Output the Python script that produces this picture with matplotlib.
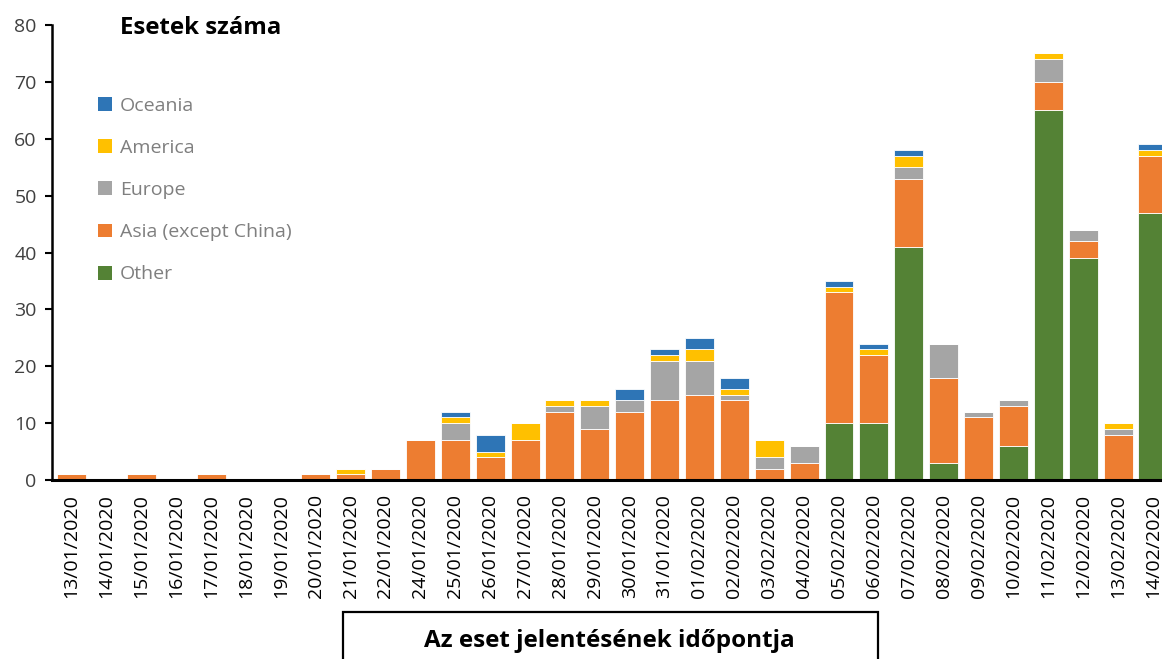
import matplotlib
matplotlib.use("Agg")
import matplotlib.pyplot as plt
from matplotlib.patches import Rectangle, Patch
import numpy as np

dates = ["13/01/2020", "14/01/2020", "15/01/2020", "16/01/2020", "17/01/2020",
         "18/01/2020", "19/01/2020", "20/01/2020", "21/01/2020", "22/01/2020",
         "24/01/2020", "25/01/2020", "26/01/2020", "27/01/2020", "28/01/2020",
         "29/01/2020", "30/01/2020", "31/01/2020", "01/02/2020", "02/02/2020",
         "03/02/2020", "04/02/2020", "05/02/2020", "06/02/2020", "07/02/2020",
         "08/02/2020", "09/02/2020", "10/02/2020", "11/02/2020", "12/02/2020",
         "13/02/2020", "14/02/2020"]

other   = [0, 0, 0, 0, 0, 0, 0, 0, 0, 0, 0, 0, 0, 0, 0, 0, 0, 0, 0, 0, 0, 0,
           10, 10, 41, 3, 0, 6, 65, 39, 0, 47]
asia    = [1, 0, 1, 0, 1, 0, 0, 1, 1, 2, 7, 7, 4, 7, 12, 9, 12, 14, 15, 14, 2, 3,
           23, 12, 12, 15, 11, 7, 5, 3, 8, 10]
europe  = [0, 0, 0, 0, 0, 0, 0, 0, 0, 0, 0, 3, 0, 0, 1, 4, 2, 7, 6, 1, 2, 3,
           0, 0, 2, 6, 1, 1, 4, 2, 1, 0]
america = [0, 0, 0, 0, 0, 0, 0, 0, 1, 0, 0, 1, 1, 3, 1, 1, 0, 1, 2, 1, 3, 0,
           1, 1, 2, 0, 0, 0, 1, 0, 1, 1]
oceania = [0, 0, 0, 0, 0, 0, 0, 0, 0, 0, 0, 1, 3, 0, 0, 0, 2, 1, 2, 2, 0, 0,
           1, 1, 1, 0, 0, 0, 0, 0, 0, 1]

series_names = ["Other", "Asia (except China)", "Europe", "America", "Oceania"]
series_values = [other, asia, europe, america, oceania]
series_colors = ["#548235", "#ED7D31", "#A5A5A5", "#FFC000", "#2E75B6"]

yticks = [0, 10, 20, 30, 40, 50, 60, 70, 80]

W, H = 1162, 659
fig = plt.figure(figsize=(W / 100, H / 100), dpi=100)
ax = fig.add_axes([52 / W, 1 - 480 / H, 1 - 52 / W, (480 - 25) / H])

x = np.arange(len(dates))
bottom = np.zeros(len(dates))
handles = []
for name, vals, col in zip(series_names, series_values, series_colors):
    v = np.array(vals, dtype=float)
    ax.bar(x, v, bottom=bottom, width=0.83, color=col, edgecolor="white",
           linewidth=0.6, zorder=2)
    bottom += v
    handles.append(Patch(facecolor=col, edgecolor="none", label=name))

ax.set_xlim(-0.56, 31.26)
ax.set_ylim(0, 80)
ax.set_yticks(yticks)
ax.set_yticklabels([str(t) for t in yticks], fontsize=14, color="#404040",
                   family="Open Sans")
ax.set_xticks(x)
ax.set_xticklabels(dates, rotation=90, fontsize=14, color="#000000",
                   family="Open Sans")
ax.tick_params(axis="x", length=0, pad=10)
ax.tick_params(axis="y", length=5, width=1.5, color="#000000", pad=6)

for s in ["top", "right"]:
    ax.spines[s].set_visible(False)
ax.spines["left"].set_linewidth(1.8)
ax.spines["bottom"].set_linewidth(2.2)
ax.spines["left"].set_color("#000000")
ax.spines["bottom"].set_color("#000000")

leg = ax.legend(handles=handles[::-1], loc="upper left",
                bbox_to_anchor=(98 / W, 1 - 97 / H),
                bbox_transform=fig.transFigure, frameon=False,
                prop={"family": "Open Sans", "size": 14},
                handlelength=0.72, handleheight=0.72, handletextpad=0.4,
                labelspacing=1.24, borderpad=0, borderaxespad=0)
for t in leg.get_texts():
    t.set_color("#7F7F7F")

fig.text(120 / W, 1 - 28 / H, "Esetek száma", fontsize=17.3, fontweight="bold",
         family="Open Sans", va="center", ha="left", color="#000000")

rect = Rectangle((343 / W, -0.05), (878 - 343) / W, (1 - 612 / H) + 0.05,
                 transform=fig.transFigure, fill=False, edgecolor="#000000",
                 linewidth=1.6, clip_on=False)
fig.patches.append(rect)
fig.text(609 / W, 1 - 641 / H, "Az eset jelentésének időpontja", fontsize=17.5,
         fontweight="bold", family="Open Sans", va="center", ha="center",
         color="#000000")

fig.savefig("out.png", dpi=100)
